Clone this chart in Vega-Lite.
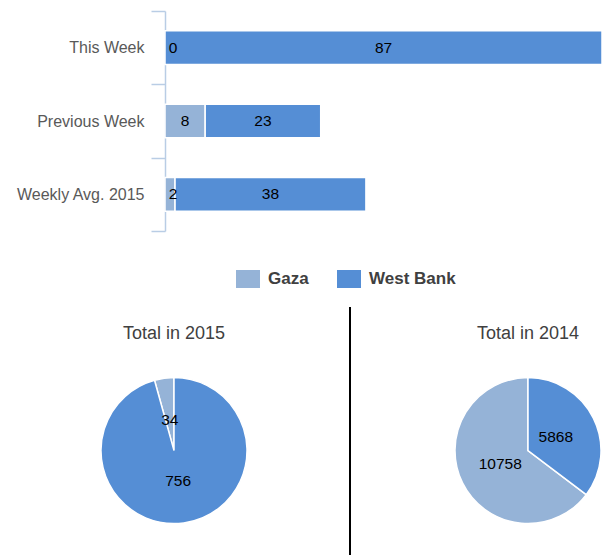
{
  "$schema": "https://vega.github.io/schema/vega-lite/v6.json",
  "padding": {"left": 0, "top": 3, "right": 0, "bottom": 0},
  "background": "white",
  "config": {
    "view": {"stroke": null},
    "font": "Liberation Sans",
    "title": {"fontSize": 18, "fontWeight": "normal", "color": "#404040", "font": "Liberation Sans", "anchor": "middle", "offset": -36},
    "legend": {"symbolStrokeWidth": 0}
  },
  "datasets": {
    "bars": [
      {"period": "This Week", "region": "Gaza", "value": 0},
      {"period": "This Week", "region": "West Bank", "value": 87},
      {"period": "Previous Week", "region": "Gaza", "value": 8},
      {"period": "Previous Week", "region": "West Bank", "value": 23},
      {"period": "Weekly Avg. 2015", "region": "Gaza", "value": 2},
      {"period": "Weekly Avg. 2015", "region": "West Bank", "value": 38}
    ],
    "pies": [
      {"year": "2015", "region": "Gaza", "value": 34},
      {"year": "2015", "region": "West Bank", "value": 756},
      {"year": "2014", "region": "Gaza", "value": 10758},
      {"year": "2014", "region": "West Bank", "value": 5868}
    ],
    "sep": [{"pos": 0}]
  },
  "vconcat": [
    {
      "hconcat": [
        {
          "width": 1,
          "height": 220,
          "data": {"values": [{}]},
          "mark": {"type": "text", "text": ""}
        },
        {
          "width": 437,
          "height": 220,
          "data": {"name": "bars"},
          "layer": [
            {
              "transform": [{"filter": "datum.value > 0"}],
              "mark": {"type": "bar", "stroke": "white", "strokeWidth": 1.5, "height": {"band": 0.46}},
              "encoding": {
                "y": {
                  "field": "period", "type": "nominal",
                  "sort": ["This Week", "Previous Week", "Weekly Avg. 2015"],
                  "scale": {"paddingInner": 0, "paddingOuter": 0},
                  "axis": {
                    "title": null, "tickBand": "extent",
                    "domainColor": "#B9CDE5", "tickColor": "#B9CDE5",
                    "domainWidth": 1.5, "tickWidth": 1.5, "tickSize": 14,
                    "labelPadding": 7, "labelFontSize": 16, "labelColor": "#595959",
                    "labelFont": "Liberation Sans", "minExtent": 164, "maxExtent": 164
                  }
                },
                "x": {"field": "value", "type": "quantitative", "stack": "zero", "scale": {"domain": [0, 87], "nice": false}, "axis": null},
                "color": {
                  "field": "region", "type": "nominal",
                  "scale": {"domain": ["Gaza", "West Bank"], "range": ["#95B3D7", "#558ED5"]},
                  "legend": {
                    "orient": "none", "legendX": 236, "legendY": 256, "direction": "horizontal",
                    "title": null, "symbolType": "M-1,-0.75H1V0.75H-1Z", "symbolSize": 576,
                    "labelFontSize": 17, "labelFontWeight": "bold", "labelColor": "#404040",
                    "labelFont": "Liberation Sans", "labelOffset": 8, "columnPadding": 28,
                    "symbolOpacity": 1, "symbolStrokeWidth": 0
                  }
                },
                "order": {"field": "region", "sort": "ascending"}
              }
            },
            {
              "transform": [
                {"stack": "value", "groupby": ["period"], "sort": [{"field": "region", "order": "ascending"}], "as": ["v0", "v1"]},
                {"calculate": "max((datum.v0 + datum.v1) / 2, 1.6)", "as": "mid"}
              ],
              "mark": {"type": "text", "fontSize": 15.5, "color": "black", "baseline": "middle", "font": "Liberation Sans"},
              "encoding": {
                "y": {"field": "period", "type": "nominal", "sort": ["This Week", "Previous Week", "Weekly Avg. 2015"]},
                "x": {"field": "mid", "type": "quantitative", "axis": null},
                "text": {"field": "value", "type": "quantitative"}
              }
            }
          ]
        }
      ],
      "spacing": 0
    },
    {
      "hconcat": [
        {
          "width": 348,
          "height": 248,
          "title": {"text": "Total in 2015"},
          "data": {"name": "pies"},
          "transform": [{"filter": "datum.year == '2015'"}],
          "encoding": {
            "y": {"field": "year", "type": "nominal", "scale": {"type": "point", "align": 0.579}, "axis": null},
            "theta": {"field": "value", "type": "quantitative", "stack": true},
            "order": {"field": "region", "sort": "descending"}
          },
          "layer": [
            {
              "mark": {"type": "arc", "outerRadius": 73, "stroke": "white", "strokeWidth": 1.5},
              "encoding": {
                "color": {"field": "region", "type": "nominal", "scale": {"domain": ["Gaza", "West Bank"], "range": ["#95B3D7", "#558ED5"]}}
              }
            },
            {
              "mark": {"type": "text", "radius": 31, "fontSize": 15.5, "color": "black", "font": "Liberation Sans"},
              "encoding": {
                "detail": {"field": "region", "type": "nominal"},
                "text": {"field": "value", "type": "quantitative"}
              }
            }
          ]
        },
        {
          "width": 101,
          "height": 248,
          "data": {"name": "sep"},
          "mark": {"type": "rule", "color": "black", "strokeWidth": 2},
          "encoding": {
            "x": {"field": "pos", "type": "quantitative", "scale": {"domain": [0, 1]}, "axis": null}
          }
        },
        {
          "width": 146,
          "height": 248,
          "title": {"text": "Total in 2014"},
          "data": {"name": "pies"},
          "transform": [{"filter": "datum.year == '2014'"}],
          "encoding": {
            "y": {"field": "year", "type": "nominal", "scale": {"type": "point", "align": 0.579}, "axis": null},
            "theta": {"field": "value", "type": "quantitative", "stack": true},
            "order": {"field": "region", "sort": "descending"}
          },
          "layer": [
            {
              "mark": {"type": "arc", "outerRadius": 73, "stroke": "white", "strokeWidth": 1.5},
              "encoding": {
                "color": {"field": "region", "type": "nominal", "scale": {"domain": ["Gaza", "West Bank"], "range": ["#95B3D7", "#558ED5"]}}
              }
            },
            {
              "mark": {"type": "text", "radius": 31, "fontSize": 15.5, "color": "black", "font": "Liberation Sans"},
              "encoding": {
                "detail": {"field": "region", "type": "nominal"},
                "text": {"field": "value", "type": "quantitative"}
              }
            }
          ]
        }
      ],
      "spacing": 1
    }
  ],
  "spacing": 74
}
